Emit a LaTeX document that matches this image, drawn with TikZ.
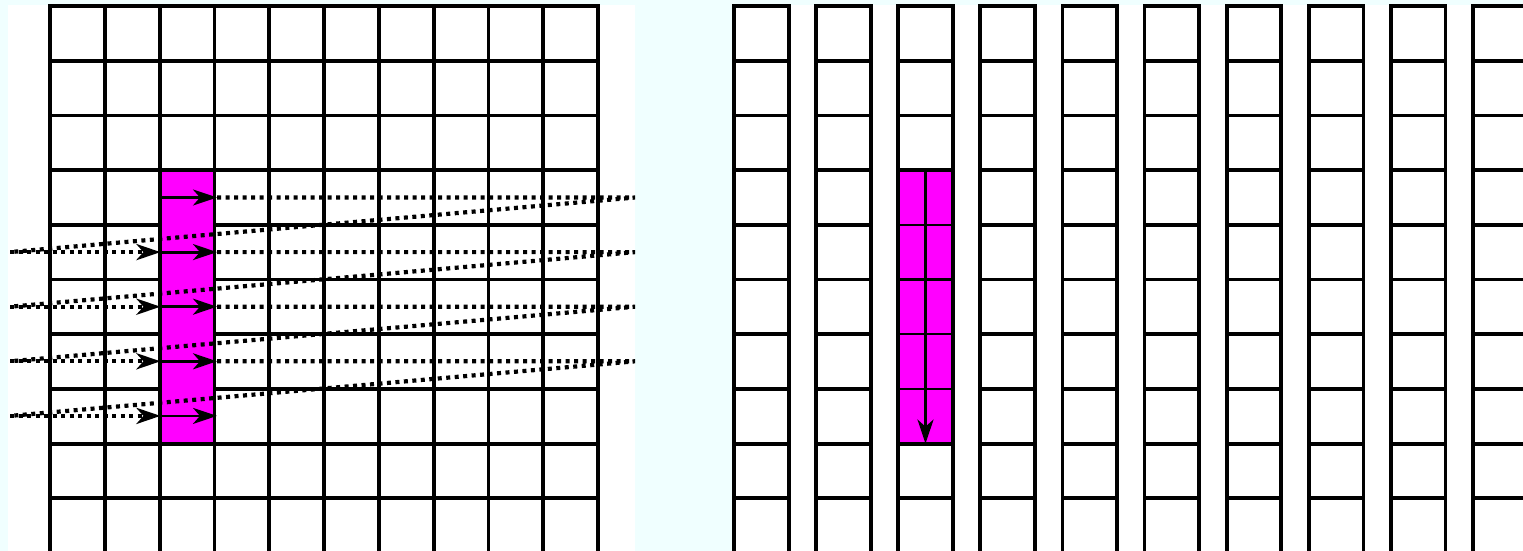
\documentclass[tikz,border=0pt]{standalone}
\usetikzlibrary{arrows.meta}
\definecolor{bgcyan}{HTML}{F0FFFF}
\definecolor{hotpink}{HTML}{FF00FF}
\tikzset{
  gridline/.style={line width=3.8pt, black, line cap=rect},
  thinline/.style={line width=2.2pt, black},
  hotcell/.style={fill=hotpink, draw=black, line width=3.8pt},
  dotline/.style={line width=4.2pt, dash pattern=on 4pt off 4.5pt},
  arrowtip/.style={-{Stealth[length=24pt,width=16pt,inset=7pt]}},
  solidarrow/.style={line width=2.8pt, arrowtip},
}
\begin{document}
\begin{tikzpicture}[x=1pt,y=-1pt]
\fill[bgcyan] (0,0) rectangle (1523,551);
\useasboundingbox (0,0) rectangle (1523,551);
\fill[white] (8,5) rectangle (635,551);
\fill[white] (733,5) rectangle (1523,551);
% ---- left grid
\foreach \i in {0,...,10} \draw[gridline] ({50+54.8*\i},6) -- ({50+54.8*\i},553);
\foreach \j in {0,...,10} \draw[gridline] (50,{6+54.7*\j}) -- (598,{6+54.7*\j});
\path[hotcell] (159.6,170.1) rectangle (214.4,443.6);
% ---- right columns
\foreach \k in {0,...,9} {
  \pgfmathsetmacro\xl{734+82.1*\k}
  \pgfmathsetmacro\xr{734+82.1*\k+54.7}
  \draw[gridline] (\xl,6) -- (\xl,553);
  \draw[gridline] (\xr,6) -- (\xr,553);
  \foreach \j in {0,...,10} \draw[gridline] (\xl,{6+54.7*\j}) -- (\xr,{6+54.7*\j});
}
\fill[hotpink] (898.2,170.1) rectangle (952.9,443.6);
\foreach \j in {4,...,7} \draw[thinline] (898.2,{6+54.7*\j}) -- (952.9,{6+54.7*\j});
\draw[gridline] (898.2,170.1) rectangle (952.9,443.6);
\coordinate (rtop) at (925.5,170.1);
\coordinate (rbot) at (925.5,443.6);
\draw[solidarrow] (rtop) -- (rbot);
% ---- left arrows
\foreach \r in {0,...,4} {
  \pgfmathsetmacro\yy{197.5+54.6*\r}
  \coordinate (a\r) at (160.5,\yy);
  \coordinate (b\r) at (217,\yy);
  \coordinate (e\r) at (635,\yy);
  \coordinate (s\r) at (10,\yy);
}
\foreach \r in {0,...,4} \draw[solidarrow] (a\r) -- (b\r);
\foreach \r/\n in {0/1,1/2,2/3,3/4} {
  \draw[dotline] (b\r) -- (e\r) -- (s\n);
  \draw[dotline, arrowtip] (s\n) -- (a\n);
}
\end{tikzpicture}
\end{document}
